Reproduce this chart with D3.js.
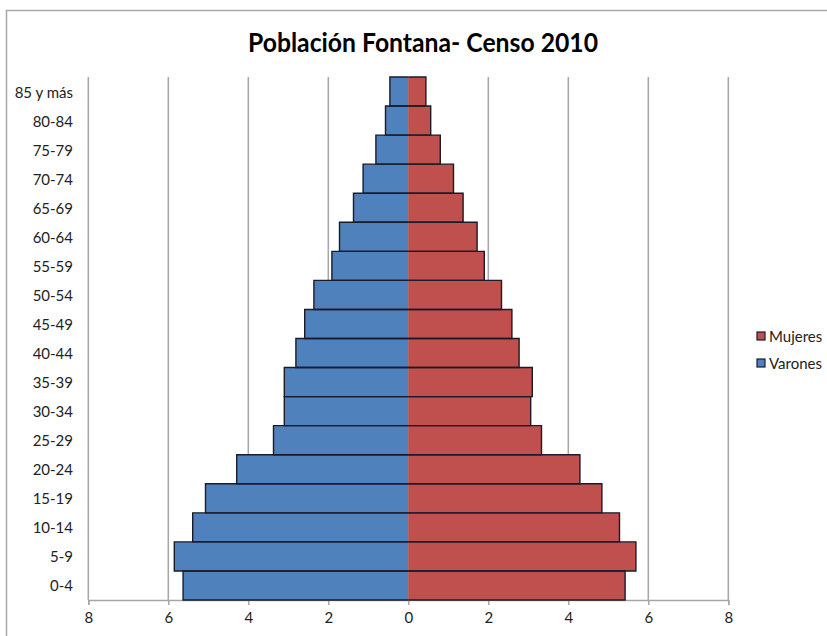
<!DOCTYPE html>
<html>
<head>
<meta charset="utf-8">
<script src="https://cdn.jsdelivr.net/npm/d3@7"></script>
<style>
  html, body { margin: 0; padding: 0; background: #fff; }
  svg { display: block; }
  text { font-family: Lato, "Open Sans", "DejaVu Sans", sans-serif; }
</style>
</head>
<body>
<svg id="chart" width="827" height="636"></svg>
<script>
// Age groups, youngest first
const ageGroups = ["0-4", "5-9", "10-14", "15-19", "20-24", "25-29", "30-34", "35-39",
  "40-44", "45-49", "50-54", "55-59", "60-64", "65-69", "70-74", "75-79", "80-84", "85 y más"];

// Percentage of total population per age group
const varones = [5.63, 5.85, 5.39, 5.07, 4.29, 3.37, 3.10, 3.10,
  2.81, 2.59, 2.36, 1.91, 1.72, 1.37, 1.13, 0.81, 0.57, 0.46];
const mujeres = [5.42, 5.69, 5.28, 4.84, 4.29, 3.33, 3.06, 3.10,
  2.77, 2.59, 2.33, 1.90, 1.72, 1.37, 1.13, 0.80, 0.56, 0.44];

const xTicks = [-8, -6, -4, -2, 0, 2, 4, 6, 8];
const seriesNames = ["Mujeres", "Varones"];
const seriesColors = { Mujeres: "#c0504d", Varones: "#4f81bd" };

const svg = d3.select("#chart");
const plot = { left: 88.3, right: 728.3, top: 77, bottom: 600 };

// Outer chart frame (runs off the right and bottom edges)
svg.append("rect")
  .attr("x", 6.5).attr("y", 10.5)
  .attr("width", 900).attr("height", 700)
  .attr("fill", "#fff")
  .attr("stroke", "#a9a9a9").attr("stroke-width", 1.5);

const x = d3.scaleLinear().domain([-8, 8]).range([plot.left, plot.right]);
const y = d3.scaleBand()
  .domain(ageGroups.slice().reverse())
  .range([plot.top, plot.bottom])
  .paddingInner(0).paddingOuter(0);

// Vertical gridlines
svg.append("g")
  .selectAll("line")
  .data(xTicks)
  .join("line")
  .attr("x1", d => x(d)).attr("x2", d => x(d))
  .attr("y1", plot.top).attr("y2", plot.bottom)
  .attr("stroke", "#a6a6a6").attr("stroke-width", 1.5);

// Bottom axis
const xAxis = d3.axisBottom(x)
  .tickValues(xTicks)
  .tickFormat(d => Math.abs(d))
  .tickSize(5)
  .tickPadding(7);
const gx = svg.append("g")
  .attr("transform", `translate(0,${plot.bottom})`)
  .call(xAxis);
gx.select(".domain").attr("stroke", "#a6a6a6").attr("stroke-width", 1.5);
gx.selectAll(".tick line").attr("stroke", "#a6a6a6").attr("stroke-width", 1.5);
gx.selectAll(".tick text")
  .attr("fill", "#222")
  .style("font-size", "15px");

// Bars
const rows = ageGroups.map((g, i) => ({ g, v: varones[i], m: mujeres[i] }));
const barG = svg.append("g");
const bh = y.bandwidth();
const stroke = "#1b1b2a";

barG.selectAll("rect.varones")
  .data(rows).join("rect")
  .attr("class", "varones")
  .attr("x", d => x(-d.v)).attr("width", d => x(0) - x(-d.v))
  .attr("y", d => y(d.g)).attr("height", bh)
  .attr("fill", seriesColors.Varones);

barG.selectAll("rect.mujeres")
  .data(rows).join("rect")
  .attr("class", "mujeres")
  .attr("x", x(0)).attr("width", d => x(d.m) - x(0))
  .attr("y", d => y(d.g)).attr("height", bh)
  .attr("fill", seriesColors.Mujeres);

// Outlines on the top, outer and bottom edges of each bar
const outline = (x0, x1, y0, y1) => `M${x0},${y0}H${x1}V${y1}H${x0}`;
barG.selectAll("path.vo")
  .data(rows).join("path")
  .attr("class", "vo")
  .attr("d", d => outline(x(0), x(-d.v), y(d.g), y(d.g) + bh))
  .attr("fill", "none").attr("stroke", stroke).attr("stroke-width", 1.4);
barG.selectAll("path.mo")
  .data(rows).join("path")
  .attr("class", "mo")
  .attr("d", d => outline(x(0), x(d.m), y(d.g), y(d.g) + bh))
  .attr("fill", "none").attr("stroke", stroke).attr("stroke-width", 1.4);

// Category labels
svg.append("g")
  .selectAll("text")
  .data(ageGroups)
  .join("text")
  .attr("x", 73)
  .attr("y", d => y(d) + bh / 2)
  .attr("text-anchor", "end")
  .attr("dominant-baseline", "central")
  .attr("fill", "#222")
  .style("font-size", "15px")
  .text(d => d);

// Title
const title = svg.append("text")
  .attr("x", 423).attr("y", 52)
  .attr("text-anchor", "middle")
  .attr("fill", "#000")
  .style("font-size", "26px")
  .style("font-weight", "bold")
  .text("Población Fontana- Censo 2010");
if (title.node().getComputedTextLength() > 350) {
  title.attr("textLength", 350).attr("lengthAdjust", "spacingAndGlyphs");
}

// Legend
const legend = svg.append("g").attr("transform", "translate(757,332)");
const li = legend.selectAll("g")
  .data(seriesNames)
  .join("g")
  .attr("transform", (d, i) => `translate(0,${i * 27})`);
li.append("rect")
  .attr("width", 8).attr("height", 8)
  .attr("fill", d => seriesColors[d])
  .attr("stroke", stroke).attr("stroke-width", 1.2);
li.append("text")
  .attr("x", 12).attr("y", 4)
  .attr("dominant-baseline", "central")
  .attr("fill", "#222")
  .style("font-size", "15px")
  .text(d => d);
</script>
</body>
</html>
